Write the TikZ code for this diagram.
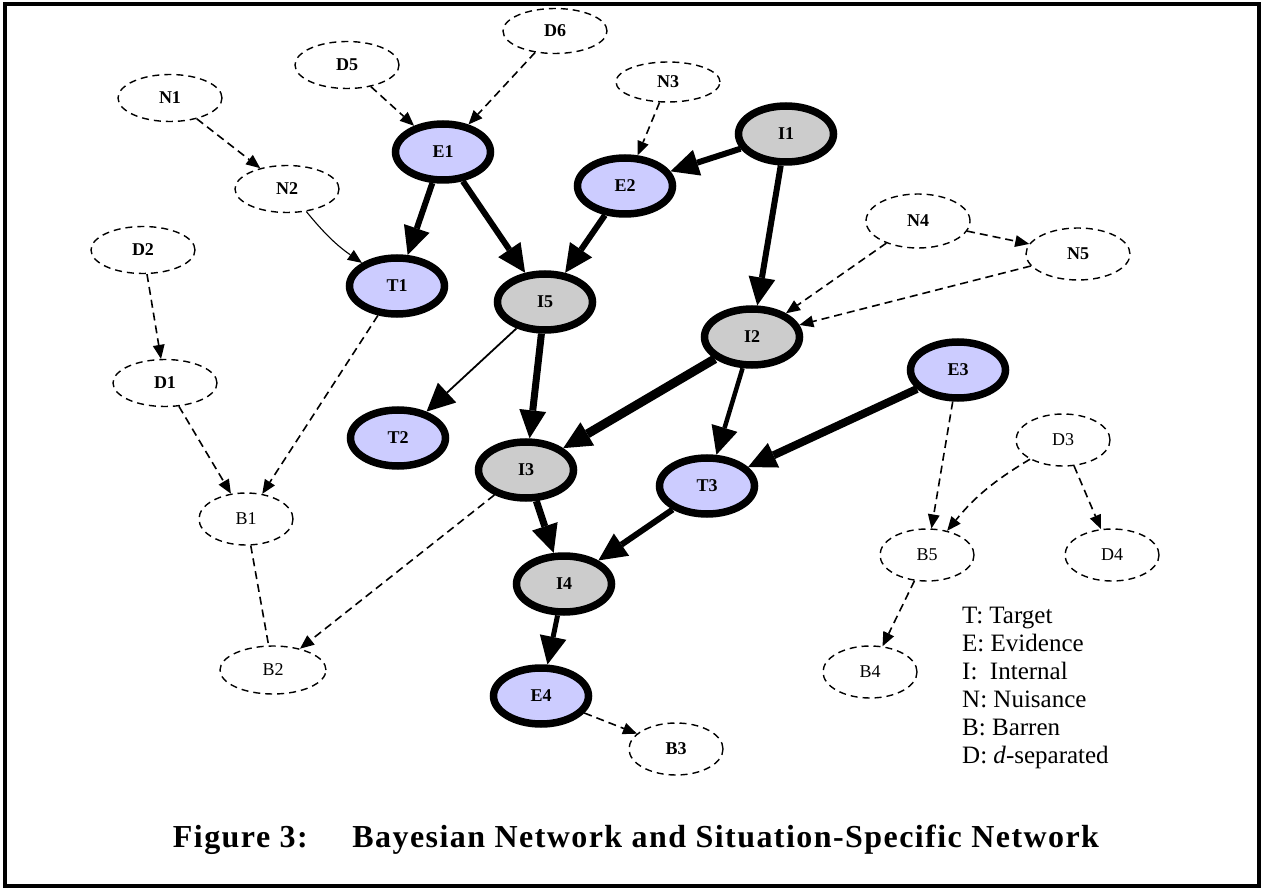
\documentclass[tikz,border=0pt]{standalone}
\usepackage{fontspec}
\setmainfont{Liberation Serif}
\usepackage{xcolor}
\usetikzlibrary{shapes.geometric,arrows.meta,positioning}

\definecolor{evfill}{RGB}{204,204,255}
\definecolor{infill}{RGB}{204,204,204}

\begin{document}
\begin{tikzpicture}[x=1pt, y=-1pt,
    net/.style={ellipse, draw, line width=7.5pt, minimum width=95pt, minimum height=56pt, inner sep=0pt, font=\fontsize{18}{18}\selectfont\bfseries},
    tnode/.style={net, fill=evfill},
    inode/.style={net, fill=infill},
    ssn/.style={ellipse, draw, dash pattern=on 7pt off 5pt, line width=1.4pt, minimum width=104pt, minimum height=47pt, inner sep=0pt, font=\fontsize{18}{18}\selectfont\bfseries},
    barren/.style={ssn, minimum width=94pt, minimum height=52pt, font=\fontsize{18}{18}\selectfont},
    arrow/.style={-{Triangle[length=28pt,width=27pt,line width=0pt]}, line width=#1},
    arrow/.default=6pt,
    dashline/.style={line width=1.6pt, dash pattern=on 8pt off 5pt},
    dasharrow/.style={dashline, -{Triangle[length=14pt,width=12pt,line width=0pt]}}
]
\useasboundingbox (0,0) rectangle (1263,890);
\draw[line width=3.5pt] (5,4) rectangle (1259,886);

% Evidence and target nodes
\node[tnode] (E1) at (443,152) {E1};
\node[tnode] (E2) at (625,186) {E2};
\node[tnode] (E3) at (958,370) {E3};
\node[tnode] (E4) at (541,696) {E4};
\node[tnode] (T1) at (397,286) {T1};
\node[tnode] (T2) at (398,438) {T2};
\node[tnode] (T3) at (707,486) {T3};

% Internal nodes
\node[inode] (I1) at (786,134) {I1};
\node[inode] (I2) at (752,337) {I2};
\node[inode] (I3) at (526,470) {I3};
\node[inode] (I4) at (564,584) {I4};
\node[inode] (I5) at (545,302) {I5};

% Nuisance and d-separated nodes
\node[ssn] (N1) at (170,98) {N1};
\node[ssn] (N2) at (287,189) {N2};
\node[ssn, minimum height=40pt] (N3) at (668,82) {N3};
\node[ssn, minimum height=54pt] (N4) at (918,221) {N4};
\node[ssn, minimum height=52pt] (N5) at (1078,254) {N5};
\node[ssn] (D1) at (165,383) {D1};
\node[ssn] (D2) at (143,250) {D2};
\node[barren] (D3) at (1063,440) {D3};
\node[barren] (D4) at (1112,555) {D4};
\node[ssn] (D5) at (347,65) {D5};
\node[ssn, minimum height=45pt] (D6) at (555,31) {D6};

% Barren nodes
\node[barren] (B1) at (246,519) {B1};
\node[barren, minimum width=106pt, minimum height=48pt] (B2) at (273,670) {B2};
\node[barren, font=\fontsize{18}{18}\selectfont\bfseries] (B3) at (676,749) {B3};
\node[barren] (B4) at (870,672) {B4};
\node[barren] (B5) at (927,555) {B5};

% Situation-specific network
\draw[arrow] (E1) -- (T1);
\draw[arrow] (E1) -- (I5);
\draw[arrow] (E2) -- (I5);
\draw[arrow] (I1) -- (E2);
\draw[arrow] (I1) -- (I2);
\draw[arrow=1.8pt] (I5) -- (T2);
\draw[arrow=7pt] (I5) -- (I3);
\draw[arrow=9pt] (I2) -- (I3);
\draw[arrow=4.5pt] (I2) -- (T3);
\draw[arrow=8pt] (E3) -- (T3);
\draw[arrow=7pt] (I3) -- (I4);
\draw[arrow] (T3) -- (I4);
\draw[arrow=5pt] (I4) -- (E4);

% Pruned part of the network
\draw[dasharrow] (N1) -- (N2);
\draw[dasharrow, solid, line width=1.1pt] (N2) to[bend right=8] (T1);
\draw[dasharrow] (D5) -- (E1);
\draw[dasharrow] (D6) -- (E1);
\draw[dasharrow] (N3) -- (E2);
\draw[dasharrow] (N4) -- (N5);
\draw[dasharrow] (N4) -- (I2);
\draw[dasharrow] (N5) -- (I2);
\draw[dasharrow] (D2) -- (D1);
\draw[dasharrow] (D1) -- (B1);
\draw[dasharrow] (T1) -- (B1);
\draw[dashline] (B1) -- (B2);
\draw[dasharrow] (I3) -- (B2);
\draw[dasharrow] (E3) -- (B5);
\draw[dasharrow] (D3) to[bend right=10] (B5);
\draw[dasharrow] (D3) -- (D4);
\draw[dasharrow] (B5) -- (B4);
\draw[dasharrow] (E4) -- (B3);

% Key and caption
\node[anchor=north west, inner sep=0pt, align=left, font=\fontsize{25}{28}\selectfont] (key) at (962,607)
  {T: Target\\E: Evidence\\I:\ \ Internal\\N: Nuisance\\B: Barren\\D: \textit{d}-separated};
\node[font=\fontsize{32}{36}\selectfont\bfseries\addfontfeature{LetterSpace=4.5}] (caption) at (636,840)
  {Figure 3:\hspace{1em} Bayesian Network and Situation-Specific Network};
\end{tikzpicture}
\end{document}
